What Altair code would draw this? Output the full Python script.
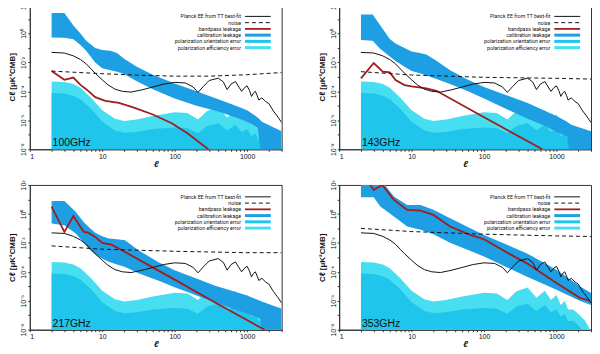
import altair as alt
import pandas as pd

# ---------------- data (log10 of C_ell in muK^2) ----------------
# Planck EE from TT best-fit (common to all panels)
ELL_TH = [2, 3, 4, 5, 6, 7, 8, 10, 12, 15, 19, 25, 35, 50, 70, 100, 140, 180, 210, 250,
          300, 400, 470, 530, 600, 690, 770, 840, 920, 1000, 1080, 1150, 1230, 1300, 1380,
          1450, 1600, 1800, 2000, 2300, 2600, 3000]
LOG_TH = [-1.31, -1.35, -1.55, -1.8, -2.1, -2.45, -2.75, -3.2, -3.55, -3.85, -4.0, -4.05,
          -3.9, -3.7, -3.5, -3.38, -3.42, -3.7, -4.07, -3.65, -3.25, -3.09, -3.35, -3.88,
          -3.5, -3.32, -3.7, -4.0, -3.75, -3.62, -3.95, -4.35, -4.1, -4.0, -4.3, -4.6,
          -4.45, -4.7, -4.85, -5.35, -5.7, -6.15]

# polarization efficiency / orientation error envelopes (common)
ELL_POL = [2, 3, 4, 5, 7, 10, 15, 20, 30, 50, 100, 150, 210, 280, 400, 530, 690, 840,
           1000, 1150, 1300, 1450, 1700, 2000, 2500, 3000]
LOG_EFF = [-3.32, -3.35, -3.5, -3.75, -4.45, -5.3, -5.9, -6.05, -5.95, -5.7, -5.45, -5.5,
           -5.95, -5.35, -5.08, -5.8, -5.3, -5.95, -5.6, -6.3, -6.0, -6.6, -6.6, -6.9,
           -7.4, -8.1]
LOG_ORI = [-4.12, -4.15, -4.3, -4.55, -5.2, -6.1, -6.7, -6.86, -6.8, -6.6, -6.5, -6.55,
           -6.9, -6.4, -6.2, -6.7, -6.3, -6.8, -6.6, -7.1, -6.9, -7.4, -7.4, -7.7, -8.3,
           -9.0]

# 100 GHz
N1_ELL = [2, 10, 30, 100, 300, 1000, 3000]
N1_LOG = [-2.6, -2.78, -2.88, -2.95, -2.95, -2.85, -2.7]
R1_ELL = [2, 3, 4, 5, 6, 8, 11, 17, 28, 50, 91, 150, 300]
R1_LOG = [-2.6, -3.2, -3.05, -3.55, -3.85, -4.4, -4.65, -4.8, -5.14, -5.6, -6.2, -6.9, -8.05]
B1_ELL = [2, 3, 4, 5, 6, 8, 10, 13, 16, 20, 30, 50, 100, 200, 400, 700, 1000, 1400, 1600, 3000]
B1_HI = [1.41, 1.41, 0.55, 0.0, -0.5, -1.0, -1.15, -1.2, -1.35, -1.75, -2.3, -2.85, -3.45,
         -4.0, -4.55, -5.0, -5.3, -5.8, -6.1, -6.75]
B1_LO = [-0.28, -0.3, -0.4, -0.8, -1.2, -2.0, -2.4, -2.55, -2.65, -2.8, -3.3, -3.85, -4.5,
         -5.0, -5.4, -5.8, -6.1, -6.5, -9.0, -9.0]

# 143 GHz
N2_ELL = [2, 10, 100, 1000, 3000]
N2_LOG = [-2.64, -2.87, -3.03, -3.1, -3.15]
R2_ELL = [2, 3, 4, 5, 6, 8, 10, 16, 22, 100, 640]
R2_LOG = [-3.1, -2.04, -2.64, -2.69, -3.22, -3.57, -3.66, -3.8, -3.96, -5.79, -8.0]
B2_ELL = [2, 2.9, 3.7, 5, 6, 8, 10, 13, 16, 22, 34, 60, 100, 200, 400, 700, 1000, 1400, 1600, 3000]
B2_HI = [1.31, 1.31, 0.55, -0.38, -0.7, -1.0, -1.25, -1.35, -1.45, -1.88, -2.55, -3.2, -3.7,
         -4.25, -4.8, -5.35, -5.7, -6.1, -6.3, -6.75]
B2_LO = [-0.45, -0.5, -1.07, -1.6, -1.9, -2.3, -2.6, -2.75, -2.9, -3.15, -3.5, -4.0, -4.5,
         -5.2, -5.9, -6.4, -6.8, -7.1, -9.0, -9.0]

# 217 GHz
N3_ELL = [2, 10, 100, 1000, 3000]
N3_LOG = [-2.21, -2.44, -2.58, -2.68, -2.68]
R3_ELL = [2, 3, 4, 5, 5.6, 6.5, 8, 10, 13.4, 20.7, 43, 100, 356, 1740]
R3_LOG = [0.5, -1.24, -0.15, -0.9, -1.24, -1.31, -1.59, -2.0, -2.12, -2.63, -3.52, -4.54, -6.1, -8.0]
B3_ELL = [2, 3, 4.3, 5.6, 6.5, 8, 10, 12.3, 16, 20.7, 31.6, 59, 100, 356, 1000, 1500, 1700, 3000]
B3_HI = [0.89, 0.89, 0.15, -0.6, -0.9, -1.3, -1.55, -1.7, -1.75, -1.82, -2.51, -3.32, -3.9,
         -4.94, -5.64, -6.0, -6.1, -6.56]
B3_LO = [-0.66, -0.78, -1.36, -2.0, -2.4, -2.8, -3.09, -3.3, -3.5, -3.67, -4.1, -4.6, -5.06,
         -6.1, -6.9, -7.2, -9.0, -9.0]

# 353 GHz
N4_ELL = [2, 10, 100, 1000, 3000]
N4_LOG = [-1.0, -1.22, -1.4, -1.52, -1.56]
R4_ELL = [2, 2.7, 3, 3.94, 5.7, 8.7, 13.3, 20, 34, 64, 100, 228, 386, 1000, 2100, 2900]
R4_LOG = [2.8, 2.0, 1.66, 2.0, 0.97, 0.28, 0.23, -0.07, -0.87, -1.45, -1.75, -2.78, -3.4,
          -4.78, -5.8, -6.0]
B4_ELL = [2, 3, 3.7, 5.7, 8.7, 13.3, 20, 34, 100, 386, 1000, 2100, 3000]
B4_HI = [2.6, 2.6, 2.4, 1.2, 0.62, 0.62, 0.28, -0.3, -1.45, -2.71, -3.86, -5.0, -5.47]
B4_LO = [1.15, 1.15, 0.51, -0.18, -0.87, -1.1, -1.4, -2.0, -2.94, -4.32, -5.24, -6.0, -6.3]

PANELS = [
    ("100GHz", N1_ELL, N1_LOG, R1_ELL, R1_LOG, B1_ELL, B1_HI, B1_LO),
    ("143GHz", N2_ELL, N2_LOG, R2_ELL, R2_LOG, B2_ELL, B2_HI, B2_LO),
    ("217GHz", N3_ELL, N3_LOG, R3_ELL, R3_LOG, B3_ELL, B3_HI, B3_LO),
    ("353GHz", N4_ELL, N4_LOG, R4_ELL, R4_LOG, B4_ELL, B4_HI, B4_LO),
]

LEGEND = ["Planck EE from TT best-fit", "noise", "bandpass leakage", "calibration leakage",
          "polarization orientation error", "polarization efficiency error"]

# ---------------- style ----------------
W, H = 254, 146
C_BLUE = "#1e9fe4"
C_EFF = "#46def0"
C_ORI = "#1fc5ea"
C_RED = "#a11d1d"
C_BLK = "#111111"
SMALL_FONT = "Liberation Sans Narrow, Roboto, Liberation Sans, Arial"

XS = alt.Scale(type="log", domain=[1, 3000], nice=False)
YS = alt.Scale(type="log", domain=[1e-8, 1e2], nice=False)

xticks = []
for dec in [1, 10, 100, 1000]:
    for m in range(1, 10):
        v = dec * m
        if v <= 3000:
            xticks.append(v)
XAX = alt.Axis(values=xticks, title="ℓ", titleFontStyle="italic", titleFontSize=9,
               titlePadding=0, labelFontSize=7, tickSize=2, labelPadding=1, grid=False,
               labelExpr="(datum.value==1||datum.value==10||datum.value==100||datum.value==1000) ? format(datum.value, 'd') : ''")
yticks = [10.0 ** e for e in range(-8, 3)]
YAX = alt.Axis(values=yticks, title="Cℓ [μK²CMB]", titleFontSize=8, titleFontWeight="bold",
               titlePadding=3, labelFontSize=7, tickSize=2, labelPadding=1, grid=False,
               labelAngle=270, labelAlign="center", labelBaseline="bottom",
               labelExpr=("round(log(datum.value)/LN10)==2 ? '10²' : "
                          "round(log(datum.value)/LN10)==0 ? '10⁰' : "
                          "round(log(datum.value)/LN10)==-2 ? '10⁻²' : "
                          "round(log(datum.value)/LN10)==-4 ? '10⁻⁴' : "
                          "round(log(datum.value)/LN10)==-6 ? '10⁻⁶' : "
                          "round(log(datum.value)/LN10)==-8 ? '10⁻⁸' : ''"))

X = alt.X("ell:Q", scale=XS, axis=XAX)


def curve(ells, logs):
    return pd.DataFrame({"ell": ells, "C": [10.0 ** v for v in logs]})


def band(ells, lo, hi):
    return pd.DataFrame({"ell": ells, "lo": [10.0 ** v for v in lo],
                         "hi": [10.0 ** v for v in hi]})


def panel(p):
    name, n_ell, n_log, r_ell, r_log, b_ell, b_hi, b_lo = p
    eff = alt.Chart(band(ELL_POL, [-10] * len(ELL_POL), LOG_EFF)).mark_area(
        color=C_EFF, clip=True, opacity=1).encode(
        x=X, y=alt.Y("lo:Q", scale=YS, axis=YAX), y2="hi:Q")
    ori = alt.Chart(band(ELL_POL, [-10] * len(ELL_POL), LOG_ORI)).mark_area(
        color=C_ORI, clip=True, opacity=1).encode(
        x=X, y=alt.Y("lo:Q", scale=YS, axis=YAX), y2="hi:Q")
    cal = alt.Chart(band(b_ell, b_lo, b_hi)).mark_area(
        color=C_BLUE, clip=True, opacity=1).encode(
        x=X, y=alt.Y("lo:Q", scale=YS, axis=YAX), y2="hi:Q")
    red = alt.Chart(curve(r_ell, r_log)).mark_line(
        color=C_RED, strokeWidth=1.8, clip=True).encode(
        x=X, y=alt.Y("C:Q", scale=YS, axis=YAX))
    noise = alt.Chart(curve(n_ell, n_log)).mark_line(
        color=C_BLK, strokeWidth=1, strokeDash=[4, 3], clip=True).encode(
        x=X, y=alt.Y("C:Q", scale=YS, axis=YAX))
    th = alt.Chart(curve(ELL_TH, LOG_TH)).mark_line(
        color=C_BLK, strokeWidth=1, clip=True).encode(
        x=X, y=alt.Y("C:Q", scale=YS, axis=YAX))

    layers = [eff, ori, cal, red, noise, th]

    one = pd.DataFrame({"a": [0]})
    styles = [
        dict(color=C_BLK, strokeWidth=1),
        dict(color=C_BLK, strokeWidth=1, strokeDash=[4, 3]),
        dict(color=C_RED, strokeWidth=1.8),
        dict(color=C_BLUE, strokeWidth=3),
        dict(color=C_ORI, strokeWidth=3),
        dict(color=C_EFF, strokeWidth=3),
    ]
    for i, lab in enumerate(LEGEND):
        yy = 12 + 6.3 * i
        layers.append(alt.Chart(one).mark_text(
            text=lab, align="right", baseline="middle", fontSize=5.3,
            font=SMALL_FONT, color="#111").encode(
            x=alt.value(213), y=alt.value(yy)))
        layers.append(alt.Chart(one).mark_rule(**styles[i]).encode(
            x=alt.value(217), x2=alt.value(243), y=alt.value(yy)))
    layers.append(alt.Chart(one).mark_text(
        text=name, align="left", baseline="bottom", fontSize=10.5,
        font="Liberation Sans", color="#111").encode(
        x=alt.value(23), y=alt.value(H - 1)))
    return alt.layer(*layers).properties(width=W, height=H)


row1 = alt.hconcat(panel(PANELS[0]), panel(PANELS[1]), spacing=35)
row2 = alt.hconcat(panel(PANELS[2]), panel(PANELS[3]), spacing=35)
chart = alt.vconcat(row1, row2, spacing=10).properties(
    padding={"left": 0, "top": -11, "right": 0, "bottom": 0}
).configure_view(stroke="#333", strokeWidth=1).configure_axis(
    domainColor="#333", tickColor="#333", labelColor="#111", titleColor="#111",
    labelFont="Liberation Sans", titleFont="Liberation Sans")

chart.save("out.html", embed_options={"renderer": "svg", "actions": False})
